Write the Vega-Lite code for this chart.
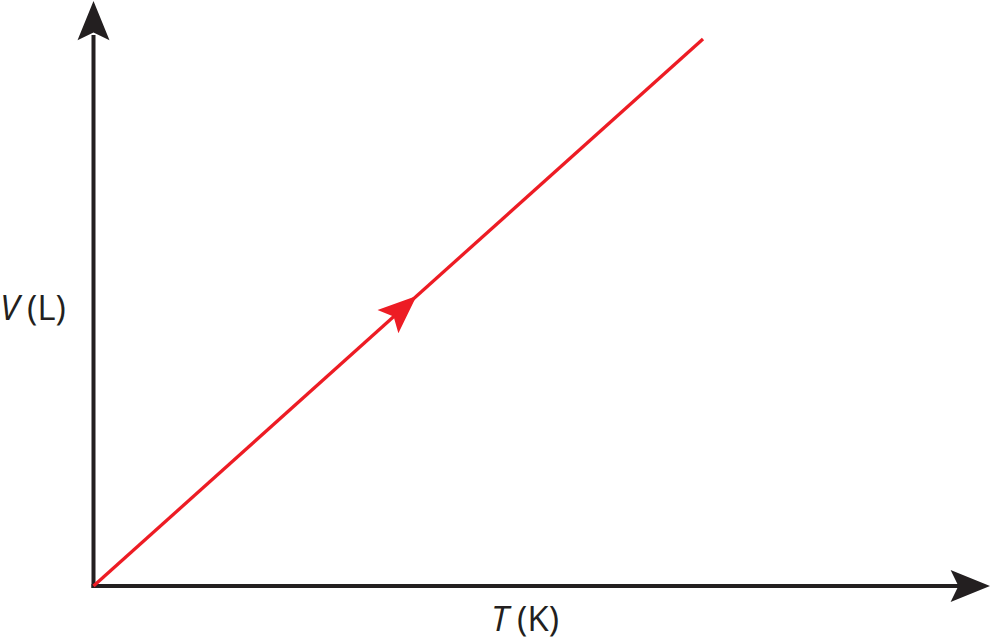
{
  "$schema": "https://vega.github.io/schema/vega-lite/v6.json",
  "width": 990,
  "height": 643,
  "autosize": {"type": "fit", "contains": "padding"},
  "padding": 0,
  "background": "white",
  "view": {"stroke": null},
  "datasets": {
    "axes": [
      {"x": 0, "y": -0.2, "x2": 0, "y2": 55.2},
      {"x": -0.2, "y": 0, "x2": 87.0, "y2": 0}
    ],
    "volume": [
      {"x": 0, "y": 0},
      {"x": 60.95, "y": 54.8}
    ],
    "yTip": [{"x": 0, "y": 56.6}],
    "xTip": [{"x": 87.65, "y": 0}],
    "midTip": [{"x": 30.85, "y": 27.75}],
    "symbols": [
      {"x": -9.35, "y": 26.7, "text": "V"},
      {"x": 39.75, "y": -4.5, "text": "T"}
    ],
    "units": [
      {"x": -6.65, "y": 26.7, "text": "(L)"},
      {"x": 42.35, "y": -4.5, "text": "(K)"}
    ]
  },
  "encoding": {
    "x": {"field": "x", "type": "quantitative", "axis": null,
          "scale": {"domain": [-9.35, 89.65], "nice": false, "zero": false}},
    "y": {"field": "y", "type": "quantitative", "axis": null,
          "scale": {"domain": [-5.7, 58.6], "nice": false, "zero": false}}
  },
  "layer": [
    {
      "data": {"name": "axes"},
      "mark": {"type": "rule", "color": "#231f20", "strokeWidth": 4, "strokeCap": "butt"},
      "encoding": {
        "x2": {"field": "x2"},
        "y2": {"field": "y2"}
      }
    },
    {
      "data": {"name": "volume"},
      "mark": {"type": "line", "color": "#ed1c24", "strokeWidth": 3.3, "strokeCap": "butt"},
      "encoding": {}
    },
    {
      "data": {"name": "yTip"},
      "mark": {"type": "point", "filled": true, "opacity": 1, "color": "#231f20",
               "shape": "M0,-1L0.8,0.97L0,0.58L-0.8,0.97Z", "size": 1600, "angle": 0}
    },
    {
      "data": {"name": "xTip"},
      "mark": {"type": "point", "filled": true, "opacity": 1, "color": "#231f20",
               "shape": "M0,-1L0.8,0.97L0,0.58L-0.8,0.97Z", "size": 1600, "angle": 90}
    },
    {
      "data": {"name": "midTip"},
      "mark": {"type": "point", "filled": true, "opacity": 1, "color": "#ed1c24",
               "shape": "M0,-1L0.8,0.97L0,0.58L-0.8,0.97Z", "size": 1521, "angle": 48}
    },
    {
      "data": {"name": "symbols"},
      "mark": {"type": "text", "align": "left", "baseline": "alphabetic",
               "font": "Open Sans", "fontStyle": "italic", "fontSize": 35, "color": "#231f20"},
      "encoding": {"text": {"field": "text"}}
    },
    {
      "data": {"name": "units"},
      "mark": {"type": "text", "align": "left", "baseline": "alphabetic",
               "font": "Open Sans", "fontSize": 35, "color": "#231f20"},
      "encoding": {"text": {"field": "text"}}
    }
  ]
}
